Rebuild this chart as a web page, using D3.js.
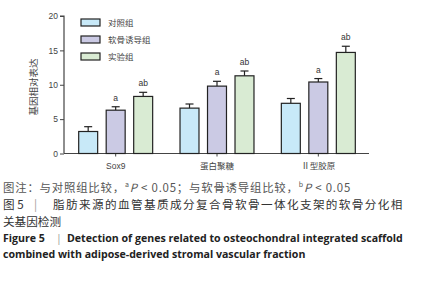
<!DOCTYPE html>
<html>
<head>
<meta charset="utf-8">
<script src="https://cdn.jsdelivr.net/npm/d3@7"></script>
<style>
  body { margin: 0; background: #fff; }
  svg { display: block; }
</style>
</head>
<body>
<svg></svg>
<script>
// Chart size
const width = 421, height = 282;

// Data
const genes = ["Sox9", "蛋白聚糖", "Ⅱ型胶原"];
const groups = ["对照组", "软骨诱导组", "实验组"];
const colors = ["#c8e9f8", "#cbcae4", "#d9ebd3"];
const means = [
  [3.2, 6.3, 8.3],
  [6.6, 9.8, 11.3],
  [7.3, 10.4, 14.7]
];
const errors = [
  [0.7, 0.5, 0.6],
  [0.6, 0.7, 0.7],
  [0.7, 0.5, 0.9]
];
const marks = [
  ["", "a", "ab"],
  ["", "a", "ab"],
  ["", "a", "ab"]
];
const yTicks = [0, 5, 10, 15, 20];

const svg = d3.select("svg")
  .attr("width", width)
  .attr("height", height);

const cnFont = "'Noto Sans CJK SC', sans-serif";
const latin = "'Liberation Sans', Arial, sans-serif";
const axisColor = "#444";

// Scales
const x0 = d3.scaleBand().domain(genes).range([64, 370]).paddingInner(0.27).paddingOuter(0.145);
const x1 = d3.scaleBand().domain(groups).range([0, x0.bandwidth()]).paddingInner(0.31).paddingOuter(0);
const y = d3.scaleLinear().domain([0, 20]).range([153.5, 16]);

// Y axis
const yAxis = svg.append("g")
  .attr("transform", "translate(64,0)")
  .call(d3.axisLeft(y).tickValues(yTicks).tickSize(4).tickPadding(2));
yAxis.select(".domain").attr("stroke", axisColor).attr("stroke-width", 1.2).attr("d", "M-4,16H0V153.5");
yAxis.selectAll(".tick line").attr("stroke", axisColor);
yAxis.selectAll(".tick text").attr("fill", "#444").style("font-family", latin).style("font-size", "8.5px");

// X axis line
svg.append("line")
  .attr("x1", 64).attr("x2", 369)
  .attr("y1", y(0)).attr("y2", y(0))
  .attr("stroke", axisColor).attr("stroke-width", 1.2);

// small center ticks under groups
svg.append("g").selectAll("line")
  .data(genes)
  .join("line")
  .attr("x1", d => x0(d) + x0.bandwidth() / 2)
  .attr("x2", d => x0(d) + x0.bandwidth() / 2)
  .attr("y1", y(0)).attr("y2", y(0) + 3)
  .attr("stroke", axisColor);

// x labels
svg.append("g").selectAll("text")
  .data(genes)
  .join("text")
  .attr("x", d => x0(d) + x0.bandwidth() / 2)
  .attr("y", 169)
  .attr("text-anchor", "middle")
  .attr("fill", "#444")
  .style("font-family", (d, i) => i === 0 ? latin : cnFont)
  .style("font-size", "8.5px")
  .text(d => d);

// Y title
svg.append("text")
  .attr("transform", "translate(37,87) rotate(-90)")
  .attr("text-anchor", "middle")
  .attr("fill", "#444")
  .style("font-family", cnFont)
  .style("font-size", "9.5px")
  .text("基因相对表达");

// Bars
const gGroups = svg.append("g").selectAll("g")
  .data(genes)
  .join("g")
  .attr("transform", d => `translate(${x0(d)},0)`);

gGroups.each(function(gene, gi) {
  const g = d3.select(this);
  groups.forEach((grp, k) => {
    const v = means[gi][k], e = errors[gi][k];
    const bx = x1(grp), bw = x1.bandwidth(), cx = bx + bw / 2;
    // error bar
    g.append("line").attr("x1", cx).attr("x2", cx)
      .attr("y1", y(v)).attr("y2", y(v + e))
      .attr("stroke", "#222").attr("stroke-width", 1.2);
    g.append("line").attr("x1", cx - 4).attr("x2", cx + 4)
      .attr("y1", y(v + e)).attr("y2", y(v + e))
      .attr("stroke", "#222").attr("stroke-width", 1.2);
    g.append("rect")
      .attr("x", bx).attr("y", y(v))
      .attr("width", bw).attr("height", y(0) - y(v))
      .attr("fill", colors[k]).attr("stroke", "#222").attr("stroke-width", 1.2);
    if (marks[gi][k]) {
      g.append("text")
        .attr("x", cx).attr("y", y(v + e) - 6)
        .attr("text-anchor", "middle")
        .attr("fill", "#333")
        .style("font-family", latin)
        .style("font-size", "8.5px")
        .text(marks[gi][k]);
    }
  });
});

// Legend
const legend = svg.append("g").selectAll("g")
  .data(groups)
  .join("g")
  .attr("transform", (d, i) => `translate(81,${19 + i * 17})`);
legend.append("rect")
  .attr("width", 19).attr("height", 7)
  .attr("fill", (d, i) => colors[i]).attr("stroke", "#222").attr("stroke-width", 1.2);
legend.append("text")
  .attr("x", 27).attr("y", 7)
  .attr("fill", "#444")
  .style("font-family", cnFont)
  .style("font-size", "8.5px")
  .text(d => d);

// Caption
const cap = svg.append("g");
const note = cap.append("text").attr("x", 3).attr("y", 192)
  .attr("fill", "#555").style("font-family", cnFont).style("font-size", "11.4px")
  .style("letter-spacing", "0.8px");
note.append("tspan").text("图注：与对照组比较，");
note.append("tspan").attr("font-size", "7px").attr("dy", -5).text("a");
note.append("tspan").attr("dy", 5).attr("font-style", "italic").text("P");
note.append("tspan").text(" < 0.05；与软骨诱导组比较，");
note.append("tspan").attr("font-size", "7px").attr("dy", -5).text("b");
note.append("tspan").attr("dy", 5).attr("font-style", "italic").text("P");
note.append("tspan").text(" < 0.05");

// Chinese title, wrapped over two lines
const title = cap.append("text")
  .attr("fill", "#333").style("font-family", cnFont).style("font-size", "11.6px");
title.append("tspan").attr("x", 3).attr("y", 209).text("图 5");
title.append("tspan").attr("x", 34).attr("fill", "#999").text("|");
title.append("tspan").attr("x", 53).style("letter-spacing", "1.4px").text("脂肪来源的血管基质成分复合骨软骨一体化支架的软骨分化相");
title.append("tspan").attr("x", 3).attr("y", 226).text("关基因检测");

// English title, wrapped over two lines
const en = cap.append("text")
  .attr("fill", "#222").style("font-family", "'Open Sans', sans-serif").style("font-weight", "bold").style("font-size", "10.6px");
en.append("tspan").attr("x", 3).attr("y", 242).text("Figure 5");
en.append("tspan").attr("x", 56).attr("fill", "#999").style("font-weight", "normal").text("|");
en.append("tspan").attr("x", 67).text("Detection of genes related to osteochondral integrated scaffold");
en.append("tspan").attr("x", 3).attr("y", 258).text("combined with adipose-derived stromal vascular fraction");
</script>
</body>
</html>
